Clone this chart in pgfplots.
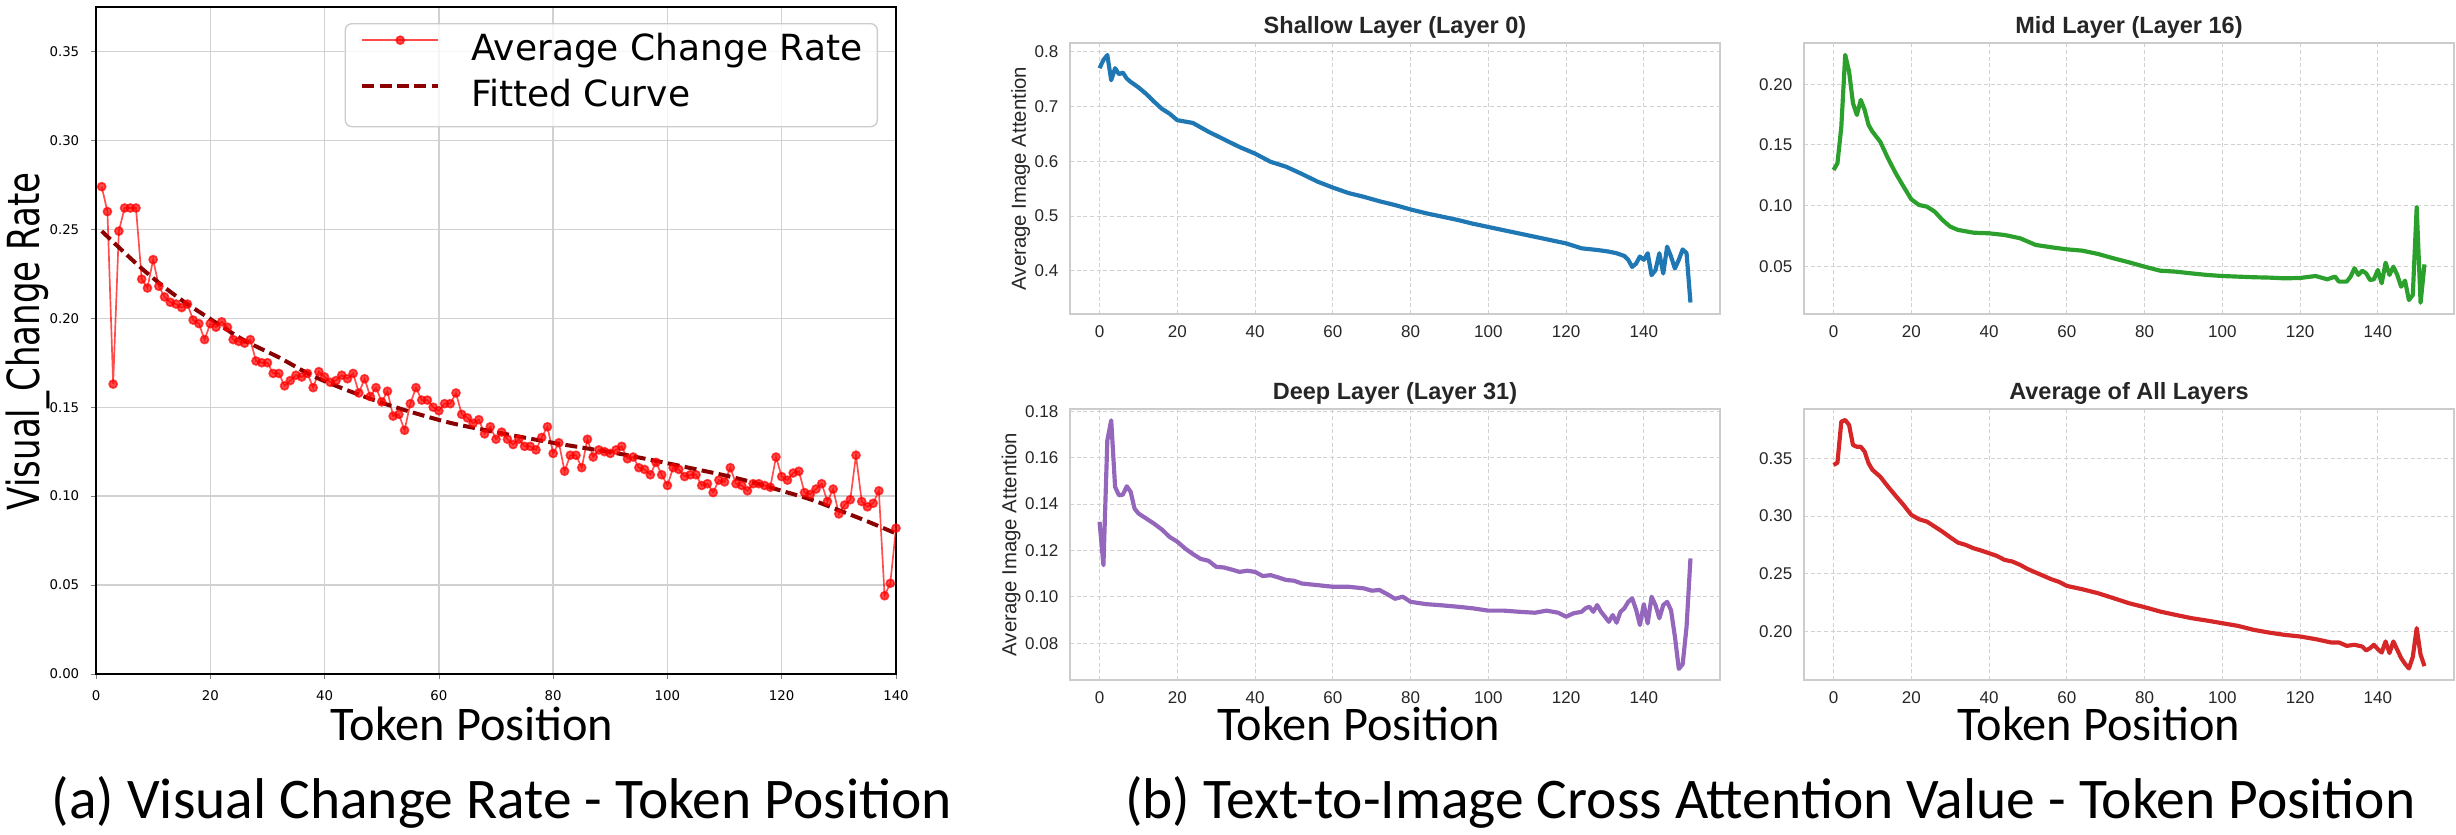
\documentclass[border=0pt]{standalone}
\usepackage{fontspec}
\usepackage{pgfplots}
\pgfplotsset{compat=1.18}
\newfontfamily\dejavu{DejaVu Sans}
\newfontfamily\carlito{Carlito}
\newfontfamily\libsans{Liberation Sans}
\definecolor{tabblue}{HTML}{1F77B4}
\definecolor{tabgreen}{HTML}{2CA02C}
\definecolor{tabpurple}{HTML}{9467BD}
\definecolor{tabred}{HTML}{D62728}
\definecolor{fitred}{HTML}{8B0000}
\definecolor{txt}{HTML}{262626}
\pgfplotsset{legend image code/.code={\draw[mark repeat=2,mark phase=2,#1] plot coordinates {(0pt,3.6pt) (11.4pt,3.6pt) (22.8pt,3.6pt)};}}
\pgfplotsset{
 bstyle/.style={
  anchor=south west, scale only axis, width=195pt, height=81.3pt,
  xmin=-7.6, xmax=159.6,
  xtick={0,20,40,60,80,100,120,140},
  axis line style={draw=black!20, line width=0.6pt},
  grid=major,
  major grid style={draw=black!18, line width=0.3pt, dash pattern=on 1.2pt off 0.8pt},
  major tick length=0pt,
  tick label style={font=\libsans\fontsize{5.1}{6}\selectfont, text=txt},
  /pgf/number format/assume math mode=true,
  title style={font=\libsans\bfseries\fontsize{7.05}{8.5}\selectfont, text=txt, at={(0.5,1)}, anchor=base, yshift=-3.1pt},
  ylabel={Average Image Attention},
  ylabel style={font=\libsans\fontsize{6.1}{7}\selectfont, text=txt, yshift=-5.5pt},
  yticklabel style={/pgf/number format/fixed, /pgf/number format/fixed zerofill, /pgf/number format/precision=2},
  every axis plot/.append style={line width=1.25pt, line join=round, no marks},
 }
}
\begin{document}
\begin{tikzpicture}
\useasboundingbox (0,0) rectangle (736.8pt,250.2pt);
% ---------------- panel (a)
\begin{axis}[
 at={(28.8pt,48pt)}, anchor=south west, scale only axis, width=240pt, height=200.1pt,
 xmin=0, xmax=140, ymin=0, ymax=0.375,
 xtick={0,20,40,60,80,100,120,140}, ytick={0,0.05,0.1,0.15,0.2,0.25,0.3,0.35},
 grid=major, major grid style={draw=black!18, line width=0.4pt},
 axis line style={line width=0.4pt},
 tick align=outside, xtick pos=left, ytick pos=left, major tick length=1.5pt,
 tick label style={font=\dejavu\fontsize{4}{5}\selectfont},
 /pgf/number format/assume math mode=true,
 yticklabel style={/pgf/number format/fixed, /pgf/number format/fixed zerofill, /pgf/number format/precision=2},
 legend style={at={(0.9775,0.976)}, anchor=north east, draw=black!20, rounded corners=2pt,
   fill=white, fill opacity=0.8, text opacity=1, font=\dejavu\fontsize{10.8}{13}\selectfont,
   inner xsep=4.5pt, inner ysep=3.15pt, row sep=3pt, column sep=9.3pt,
   nodes={inner sep=0pt, text height=7.9pt, text depth=2.9pt}},
 legend cell align=left,
]
\addplot[color=red, opacity=0.7, line width=0.5pt, mark=*, mark size=1.2pt, mark options={fill=red, draw=red}] coordinates {
(1,0.274)(2,0.260)(3,0.163)(4,0.249)(5,0.262)(6,0.262)(7,0.262)(8,0.222)(9,0.217)(10,0.233)
(11,0.218)(12,0.212)(13,0.209)(14,0.208)(15,0.206)(16,0.208)(17,0.199)(18,0.197)(19,0.188)(20,0.197)
(21,0.195)(22,0.198)(23,0.195)(24,0.188)(25,0.187)(26,0.186)(27,0.188)(28,0.176)(29,0.175)(30,0.175)
(31,0.169)(32,0.169)(33,0.162)(34,0.165)(35,0.168)(36,0.167)(37,0.169)(38,0.161)(39,0.170)(40,0.167)
(41,0.164)(42,0.165)(43,0.168)(44,0.166)(45,0.169)(46,0.158)(47,0.166)(48,0.156)(49,0.161)(50,0.153)
(51,0.159)(52,0.145)(53,0.146)(54,0.137)(55,0.152)(56,0.161)(57,0.154)(58,0.154)(59,0.150)(60,0.148)
(61,0.152)(62,0.152)(63,0.158)(64,0.146)(65,0.144)(66,0.141)(67,0.143)(68,0.135)(69,0.139)(70,0.132)
(71,0.136)(72,0.132)(73,0.129)(74,0.132)(75,0.128)(76,0.128)(77,0.126)(78,0.133)(79,0.139)(80,0.124)
(81,0.130)(82,0.114)(83,0.123)(84,0.123)(85,0.116)(86,0.132)(87,0.122)(88,0.126)(89,0.125)(90,0.124)
(91,0.126)(92,0.128)(93,0.121)(94,0.122)(95,0.116)(96,0.115)(97,0.112)(98,0.119)(99,0.112)(100,0.106)
(101,0.116)(102,0.115)(103,0.111)(104,0.112)(105,0.112)(106,0.106)(107,0.107)(108,0.102)(109,0.109)(110,0.108)
(111,0.116)(112,0.107)(113,0.106)(114,0.103)(115,0.107)(116,0.107)(117,0.106)(118,0.105)(119,0.122)(120,0.111)
(121,0.109)(122,0.113)(123,0.114)(124,0.102)(125,0.101)(126,0.104)(127,0.107)(128,0.097)(129,0.104)(130,0.090)
(131,0.095)(132,0.098)(133,0.123)(134,0.097)(135,0.094)(136,0.096)(137,0.103)(138,0.044)(139,0.051)(140,0.082)
};
\addlegendentry{Average Change Rate}
\addplot[color=fitred, line width=1.2pt, dash pattern=on 3.6pt off 1.6pt, smooth] coordinates {
(1,0.249)(8,0.228)(14,0.2125)(20,0.1996)(26,0.1875)(32,0.178)(38,0.1675)(44,0.1595)(50,0.1525)
(56,0.1465)(62,0.1412)(68,0.1372)(74,0.1335)(80,0.1300)(86,0.1268)(92,0.1236)(98,0.1198)
(104,0.1158)(110,0.1117)(115,0.1077)(120,0.1030)(125,0.0982)(130,0.0921)(135,0.0858)(140,0.0790)
};
\addlegendentry{Fitted Curve}
\end{axis}
% ---------------- panel (b) top-left
\begin{axis}[bstyle, at={(321pt,156pt)}, ymin=0.321, ymax=0.816,
 ytick={0.4,0.5,0.6,0.7,0.8},
 yticklabel style={/pgf/number format/precision=1},
 title={Shallow Layer (Layer 0)}]
\addplot[color=tabblue] coordinates {
(0,0.770)(1,0.785)(2,0.794)(3,0.748)(4,0.770)(5,0.759)(6,0.762)(7,0.751)(8,0.745)(10,0.735)(12,0.723)
(14,0.709)(16,0.696)(18,0.687)(20,0.675)(24,0.670)(28,0.654)(32,0.640)(36,0.626)(40,0.614)(44,0.599)
(48,0.590)(52,0.577)(56,0.563)(60,0.552)(64,0.542)(68,0.535)(72,0.527)(76,0.520)(80,0.512)(84,0.505)
(88,0.499)(92,0.493)(96,0.486)(100,0.480)(104,0.474)(108,0.468)(112,0.462)(116,0.456)(120,0.450)
(124,0.441)(128,0.438)(131,0.435)(133,0.432)(135,0.427)(136,0.420)(137,0.407)(138,0.413)(139,0.426)
(140,0.420)(141,0.432)(142,0.392)(143,0.401)(144,0.432)(145,0.395)(146,0.444)(147,0.426)(148,0.404)
(149,0.420)(150,0.439)(151,0.432)(152,0.342)
};
\end{axis}
% ---------------- panel (b) top-right
\begin{axis}[bstyle, at={(541.2pt,156pt)}, ymin=0.0107, ymax=0.234,
 ytick={0.05,0.1,0.15,0.2}, ylabel={},
 title={Mid Layer (Layer 16)}]
\addplot[color=tabgreen] coordinates {
(0,0.1294)(1,0.1349)(2,0.165)(3,0.2242)(4,0.2104)(5,0.1843)(6,0.1747)(7,0.1871)(8,0.1788)(9,0.1665)
(10,0.161)(12,0.1527)(14,0.139)(16,0.1266)(18,0.1157)(20,0.1052)(22,0.1005)(24,0.0992)(26,0.0951)
(28,0.0882)(30,0.0827)(32,0.080)(36,0.0777)(40,0.0772)(44,0.0758)(48,0.0731)(52,0.0676)(56,0.0657)
(60,0.064)(64,0.0629)(68,0.0602)(72,0.0566)(76,0.0533)(80,0.0497)(84,0.0464)(88,0.0456)(92,0.0442)
(96,0.0429)(100,0.042)(104,0.0415)(108,0.041)(112,0.0407)(116,0.0401)(120,0.0404)(124,0.042)
(127,0.0393)(129,0.0415)(130,0.0374)(132,0.0374)(133,0.0415)(134,0.0484)(135,0.0429)(136,0.0464)
(137,0.0442)(138,0.0387)(139,0.0393)(140,0.047)(141,0.036)(142,0.053)(143,0.0429)(144,0.0497)
(145,0.0429)(146,0.0332)(147,0.0382)(148,0.0222)(149,0.0264)(150,0.0986)(151,0.020)(152,0.0516)
};
\end{axis}
% ---------------- panel (b) bottom-left
\begin{axis}[bstyle, at={(321pt,46.2pt)}, ymin=0.0642, ymax=0.181,
 ytick={0.08,0.1,0.12,0.14,0.16,0.18},
 title={Deep Layer (Layer 31)}]
\addplot[color=tabpurple] coordinates {
(0,0.1324)(1,0.1137)(2,0.1675)(3,0.1761)(4,0.1474)(5,0.1438)(6,0.1441)(7,0.1477)(8,0.1453)(9,0.1381)
(10,0.136)(12,0.1338)(14,0.1316)(16,0.1291)(18,0.1259)(20,0.1238)(22,0.1209)(24,0.1185)(26,0.1164)
(28,0.1156)(30,0.113)(32,0.1127)(34,0.1118)(36,0.1108)(38,0.1113)(40,0.1108)(42,0.109)(44,0.1094)
(46,0.1084)(48,0.1073)(50,0.107)(52,0.1058)(56,0.1051)(60,0.1044)(64,0.1044)(68,0.1037)(70,0.1027)
(72,0.1030)(74,0.1012)(76,0.0992)(78,0.1001)(80,0.0979)(84,0.0969)(88,0.0964)(92,0.0958)(96,0.0951)
(100,0.0941)(104,0.0941)(108,0.0936)(112,0.0932)(115,0.0941)(118,0.0932)(120,0.0915)(122,0.093)
(124,0.0936)(125,0.0951)(126,0.0958)(127,0.0936)(128,0.0965)(129,0.0936)(130,0.0915)(131,0.0893)
(132,0.0922)(133,0.0889)(134,0.0936)(135,0.0951)(136,0.0979)(137,0.0994)(138,0.0946)(139,0.0879)
(140,0.0969)(141,0.0886)(142,0.1001)(143,0.0965)(144,0.0908)(145,0.0965)(146,0.0979)(147,0.0943)
(148,0.0829)(149,0.069)(150,0.071)(151,0.0872)(152,0.1166)
};
\end{axis}
% ---------------- panel (b) bottom-right
\begin{axis}[bstyle, at={(541.2pt,46.2pt)}, ymin=0.158, ymax=0.3927,
 ytick={0.2,0.25,0.3,0.35}, ylabel={},
 title={Average of All Layers}]
\addplot[color=tabred] coordinates {
(0,0.3442)(1,0.3462)(2,0.3817)(3,0.3832)(4,0.3788)(5,0.3615)(6,0.360)(7,0.360)(8,0.3558)(9,0.3457)
(10,0.340)(12,0.3341)(14,0.3255)(16,0.3174)(18,0.3096)(20,0.301)(22,0.2972)(24,0.2952)(26,0.2909)
(28,0.2865)(30,0.2816)(32,0.277)(34,0.275)(36,0.2721)(38,0.2701)(40,0.2678)(42,0.2655)(44,0.262)
(46,0.2606)(48,0.2577)(50,0.2540)(52,0.2511)(54,0.2482)(56,0.2453)(58,0.243)(60,0.2395)(64,0.2366)
(68,0.2332)(72,0.2289)(76,0.2245)(80,0.2211)(84,0.2173)(88,0.2144)(92,0.2116)(96,0.2095)(100,0.2072)
(104,0.2049)(108,0.2015)(112,0.1991)(116,0.1971)(120,0.1957)(124,0.1934)(128,0.1905)(130,0.1905)
(132,0.1876)(134,0.1885)(136,0.1870)(137,0.1836)(138,0.1856)(139,0.1885)(140,0.1847)(141,0.1818)
(142,0.1914)(143,0.1813)(144,0.1914)(145,0.1842)(146,0.177)(147,0.172)(148,0.168)(149,0.178)
(150,0.2029)(151,0.180)(152,0.170)
};
\end{axis}
% ---------------- external labels
\node[font=\dejavu\fontsize{10.2}{12}\selectfont, rotate=90, yscale=1.3, anchor=base] at (12pt,147.75pt) {Visual\_Change Rate};
\node[font=\carlito\fontsize{14.5}{16}\selectfont, anchor=base] at (141.6pt,28.2pt) {Token Position};
\node[font=\carlito\fontsize{14.5}{16}\selectfont, anchor=base] at (407.7pt,28.2pt) {Token Position};
\node[font=\carlito\fontsize{14.5}{16}\selectfont, anchor=base] at (629.7pt,28.2pt) {Token Position};
\node[font=\carlito\fontsize{17.25}{19}\selectfont, anchor=base] at (150.6pt,4.8pt) {(a) Visual Change Rate - Token Position};
\node[font=\carlito\fontsize{17.25}{19}\selectfont, anchor=base] at (531.15pt,4.8pt) {(b) Text-to-Image Cross Attention Value - Token Position};
\end{tikzpicture}
\end{document}
